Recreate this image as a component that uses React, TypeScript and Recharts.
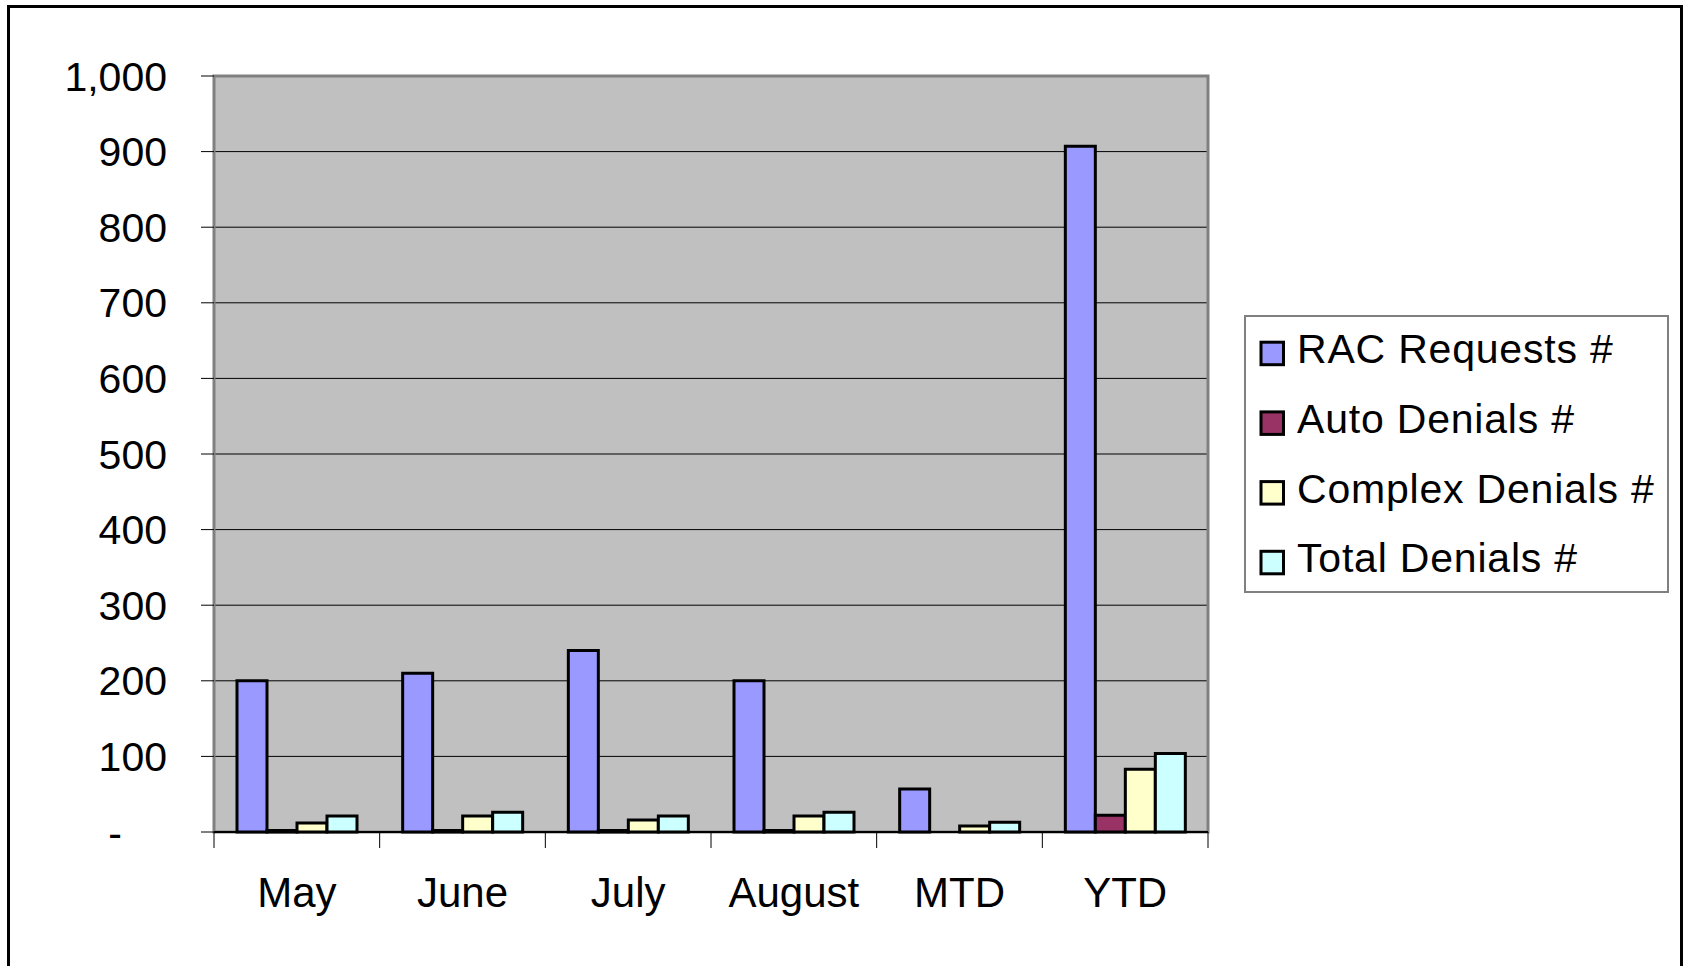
import React from 'react';
import { BarChart, Bar, XAxis, YAxis, CartesianGrid, ReferenceArea, Legend } from 'recharts';

const categories = ['May', 'June', 'July', 'August', 'MTD', 'YTD'];
const racRequests = [200, 210, 240, 200, 57, 907];
const autoDenials = [2, 2, 2, 2, 0, 22];
const complexDenials = [12, 21, 16, 21, 8, 83];
const totalDenials = [21, 26, 21, 26, 13, 104];
const yTicks = [0, 100, 200, 300, 400, 500, 600, 700, 800, 900, 1000];

const seriesNames = ['RAC Requests #', 'Auto Denials #', 'Complex Denials #', 'Total Denials #'];
const seriesKeys = ['rac', 'auto', 'complex', 'total'];
const seriesColors = ['#9999FF', '#993366', '#FFFFCC', '#CCFFFF'];

const data = categories.map((c, i) => ({
  name: c,
  rac: racRequests[i],
  auto: autoDenials[i],
  complex: complexDenials[i],
  total: totalDenials[i],
}));

const W = 1684;
const H = 966;
const PLOT_LEFT = 214;
const PLOT_RIGHT = 1208;
const PLOT_TOP = 76;
const PLOT_BOTTOM = 832;
const BAND = (PLOT_RIGHT - PLOT_LEFT) / categories.length;
const FONT = '"Liberation Sans", Arial, sans-serif';

const XTick = (props: any) => {
  const { x, y, payload, index } = props;
  const last = index === categories.length - 1;
  return (
    <g>
      <line x1={x - BAND / 2} x2={x - BAND / 2} y1={y} y2={y + 16} stroke="#000" strokeWidth={1} />
      {last && <line x1={x + BAND / 2} x2={x + BAND / 2} y1={y} y2={y + 16} stroke="#000" strokeWidth={1} />}
      <text x={x} y={y + 75} textAnchor="middle" fontSize={42} fontFamily={FONT} fill="#000">
        {payload.value}
      </text>
    </g>
  );
};

const YTick = (props: any) => {
  const { x, y, payload } = props;
  const v = payload.value as number;
  const label = v === 0 ? '-' : v.toLocaleString('en-US');
  return (
    <text x={v === 0 ? x - 45 : x} y={y} dy="0.355em" textAnchor="end" fontSize={41} fontFamily={FONT} fill="#000">
      {label}
    </text>
  );
};

const LEG_W = 425;
const LEG_H = 278;

const LegendBox = () => (
  <svg width={LEG_W} height={LEG_H} style={{ display: 'block' }}>
    <rect x={1} y={1} width={LEG_W - 2} height={LEG_H - 2} fill="#fff" stroke="#808080" strokeWidth={2} />
    {seriesNames.map((n, i) => (
      <g key={n}>
        <rect x={17} y={27.2 + i * 69.7} width={22.5} height={22.5} fill={seriesColors[i]} stroke="#000" strokeWidth={3} />
        <text x={53} y={48.3 + i * 69.7} fontSize={41} fontFamily={FONT} fill="#000" letterSpacing={0.8}>
          {n}
        </text>
      </g>
    ))}
  </svg>
);

export default function App() {
  return (
    <div style={{ position: 'absolute', left: 0, top: 0, width: W, height: H, overflow: 'hidden', background: '#fff' }}>
      <div
        style={{
          position: 'absolute',
          left: 7,
          top: 5,
          width: 1676,
          height: 1000,
          border: '3px solid #000',
          boxSizing: 'border-box',
        }}
      />
      <div style={{ position: 'absolute', left: 0, top: 0 }}>
        <BarChart
          width={W}
          height={H}
          data={data}
          margin={{ top: PLOT_TOP, right: W - PLOT_RIGHT, bottom: 0, left: 0 }}
          barCategoryGap={23}
          barGap={0}
        >
          <CartesianGrid vertical={false} stroke="#000" strokeWidth={1} fill="#C0C0C0" fillOpacity={1} />
          <ReferenceArea y1={0} y2={1000} fill="none" stroke="#808080" strokeWidth={3} ifOverflow="visible" />
          <XAxis
            dataKey="name"
            height={H - PLOT_BOTTOM}
            tickLine={false}
            tickSize={0}
            tickMargin={0}
            axisLine={{ stroke: '#000', strokeWidth: 2 }}
            tick={<XTick />}
            interval={0}
          />
          <YAxis
            width={PLOT_LEFT}
            domain={[0, 1000]}
            ticks={yTicks}
            interval={0}
            tickSize={13}
            tickMargin={34}
            tickLine={{ stroke: '#000' }}
            axisLine={false}
            tick={<YTick />}
          />
          {seriesKeys.map((k, i) => (
            <Bar
              key={k}
              dataKey={k}
              name={seriesNames[i]}
              fill={seriesColors[i]}
              stroke="#000"
              strokeWidth={3}
              isAnimationActive={false}
            />
          ))}
          <Legend
            layout="vertical"
            align="center"
            verticalAlign="middle"
            content={() => <LegendBox />}
            wrapperStyle={{ position: 'absolute', left: 1244, top: 315, width: LEG_W, height: LEG_H }}
          />
        </BarChart>
      </div>
    </div>
  );
}
